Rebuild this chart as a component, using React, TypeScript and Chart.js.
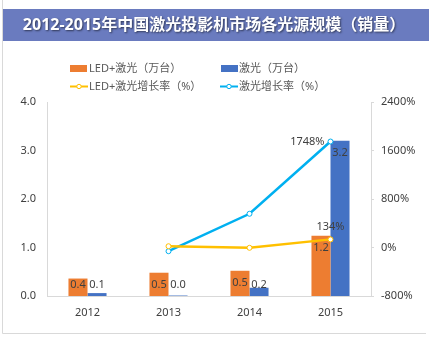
import React, { useEffect, useRef } from "react";
import { Chart, registerables } from "chart.js";

Chart.register(...registerables);

const title = "2012-2015年中国激光投影机市场各光源规模（销量）";
const categories = ["2012", "2013", "2014", "2015"];
const ledLaserUnits = [0.36, 0.48, 0.52, 1.24];
const laserUnits = [0.06, 0.01, 0.17, 3.2];
const ledLaserGrowth = [null, 21, -5, 134];
const laserGrowth = [null, -61, 556, 1748];
const seriesNames = ["LED+激光（万台）", "激光（万台）", "LED+激光增长率（%）", "激光增长率（%）"];
const leftTicks = [0, 1, 2, 3, 4];
const rightTicks = [-800, 0, 800, 1600, 2400];

const ORANGE = "#ed7d31";
const BLUE = "#4472c4";
const YELLOW = "#ffc000";
const CYAN = "#00b0f0";
const FONT = '"Noto Sans", "Noto Sans CJK SC", sans-serif';
const TEXT = "#404040";

const decorPlugin = {
  id: "decor",
  beforeDraw(chart: any) {
    const ctx = chart.ctx;
    ctx.save();
    ctx.fillStyle = "#ffffff";
    ctx.fillRect(0, 0, chart.width, chart.height);
    // frame
    ctx.strokeStyle = "#d9d9d9";
    ctx.lineWidth = 1;
    ctx.beginPath();
    ctx.moveTo(2.5, 0);
    ctx.lineTo(2.5, 333.5);
    ctx.lineTo(426, 333.5);
    ctx.stroke();
    // title band
    ctx.fillStyle = "#6a7bbf";
    ctx.fillRect(3, 9, chart.width - 3, 32);
    ctx.font = `bold 16px ${FONT}`;
    ctx.textAlign = "center";
    ctx.textBaseline = "middle";
    ctx.shadowColor = "rgba(0,0,0,0.55)";
    ctx.shadowOffsetX = 1;
    ctx.shadowOffsetY = 1;
    ctx.shadowBlur = 2;
    ctx.fillStyle = "#ffffff";
    ctx.fillText(title, 214, 25.5);
    ctx.shadowColor = "transparent";
    // legend
    ctx.font = `11px ${FONT}`;
    ctx.textAlign = "left";
    ctx.fillStyle = ORANGE;
    ctx.fillRect(70, 65, 17, 7);
    ctx.fillStyle = BLUE;
    ctx.fillRect(221, 65, 17, 7);
    const drawLineKey = (x: number, y: number, c: string) => {
      ctx.strokeStyle = c;
      ctx.lineWidth = 2;
      ctx.beginPath();
      ctx.moveTo(x, y);
      ctx.lineTo(x + 18, y);
      ctx.stroke();
      ctx.fillStyle = "#fff";
      ctx.lineWidth = 1;
      ctx.beginPath();
      ctx.arc(x + 9, y, 2.2, 0, Math.PI * 2);
      ctx.fill();
      ctx.stroke();
    };
    drawLineKey(70, 86.5, YELLOW);
    drawLineKey(220, 86.5, CYAN);
    ctx.fillStyle = "#595959";
    ctx.fillText(seriesNames[0], 89, 69);
    ctx.fillText(seriesNames[1], 239, 69);
    ctx.fillText(seriesNames[2], 89, 86.5);
    ctx.fillText(seriesNames[3], 239, 86.5);
    ctx.restore();
  },
  afterDatasetsDraw(chart: any) {
    const ctx = chart.ctx;
    ctx.save();
    ctx.font = `11px ${FONT}`;
    ctx.fillStyle = TEXT;
    ctx.textBaseline = "middle";
    ctx.textAlign = "center";
    const base = chart.scales.y.getPixelForValue(0);
    [2, 3].forEach((di) => {
      const meta = chart.getDatasetMeta(di);
      const data = chart.data.datasets[di].data as number[];
      meta.data.forEach((el: any, i: number) => {
        const y = Math.min(el.y + 12, base - 11);
        ctx.fillText(data[i].toFixed(1), el.x, y);
      });
    });
    // line labels (last point)
    const m1 = chart.getDatasetMeta(1);
    const p1 = m1.data[3];
    ctx.textAlign = "right";
    ctx.fillText(`${laserGrowth[3]}%`, p1.x - 6, p1.y);
    const m0 = chart.getDatasetMeta(0);
    const p0 = m0.data[3];
    ctx.textAlign = "center";
    ctx.fillText(`${ledLaserGrowth[3]}%`, p0.x, p0.y - 13);
    ctx.restore();
  },
};

export default function App() {
  const ref = useRef<HTMLCanvasElement | null>(null);
  useEffect(() => {
    document.body.style.margin = "0";
    const chart = new Chart(ref.current as HTMLCanvasElement, {
      type: "bar",
      data: {
        labels: categories,
        datasets: [
          {
            type: "line",
            label: seriesNames[2],
            data: ledLaserGrowth,
            yAxisID: "y1",
            borderColor: YELLOW,
            borderWidth: 2.5,
            pointBackgroundColor: "#ffffff",
            pointBorderColor: YELLOW,
            pointBorderWidth: 1,
            pointRadius: 2.5,
            tension: 0,
            order: 0,
          } as any,
          {
            type: "line",
            label: seriesNames[3],
            data: laserGrowth,
            yAxisID: "y1",
            borderColor: CYAN,
            borderWidth: 2.5,
            pointBackgroundColor: "#ffffff",
            pointBorderColor: CYAN,
            pointBorderWidth: 1,
            pointRadius: 2.5,
            tension: 0,
            order: 0,
          } as any,
          {
            type: "bar",
            label: seriesNames[0],
            data: ledLaserUnits,
            yAxisID: "y",
            backgroundColor: ORANGE,
            categoryPercentage: 0.47,
            barPercentage: 1,
            order: 1,
          },
          {
            type: "bar",
            label: seriesNames[1],
            data: laserUnits,
            yAxisID: "y",
            backgroundColor: BLUE,
            categoryPercentage: 0.47,
            barPercentage: 1,
            order: 1,
          },
        ],
      },
      options: {
        responsive: false,
        animation: false,
        devicePixelRatio: 1,
        layout: { padding: { top: 102, left: 0, right: 0, bottom: 0 } },
        plugins: {
          legend: { display: false },
          title: { display: false },
          tooltip: { enabled: false },
        },
        scales: {
          x: {
            grid: { display: false, drawTicks: false },
            border: { color: "#d9d9d9" },
            ticks: { padding: 10, color: TEXT, font: { family: FONT, size: 11 } },
            afterFit: (s: any) => {
              s.height = 44;
            },
          },
          y: {
            position: "left",
            min: leftTicks[0],
            max: leftTicks[leftTicks.length - 1],
            afterBuildTicks: (s: any) => {
              s.ticks = leftTicks.map((v) => ({ value: v }));
            },
            grid: { display: false, drawTicks: false },
            border: { color: "#d9d9d9" },
            ticks: {
              padding: 11,
              color: TEXT,
              font: { family: FONT, size: 11 },
              callback: (v: any) => Number(v).toFixed(1),
            },
            afterFit: (s: any) => {
              s.width = 47;
            },
          },
          y1: {
            position: "right",
            min: rightTicks[0],
            max: rightTicks[rightTicks.length - 1],
            afterBuildTicks: (s: any) => {
              s.ticks = rightTicks.map((v) => ({ value: v }));
            },
            grid: { drawOnChartArea: false, drawTicks: true, tickLength: 3, color: "#d9d9d9" },
            border: { color: "#d9d9d9" },
            ticks: {
              padding: 7,
              color: TEXT,
              font: { family: FONT, size: 11 },
              callback: (v: any) => `${v}%`,
            },
            afterFit: (s: any) => {
              s.width = 58;
            },
          },
        },
      },
      plugins: [decorPlugin],
    });
    return () => chart.destroy();
  }, []);
  return <canvas ref={ref} width={429} height={340} style={{ display: "block" }} />;
}
